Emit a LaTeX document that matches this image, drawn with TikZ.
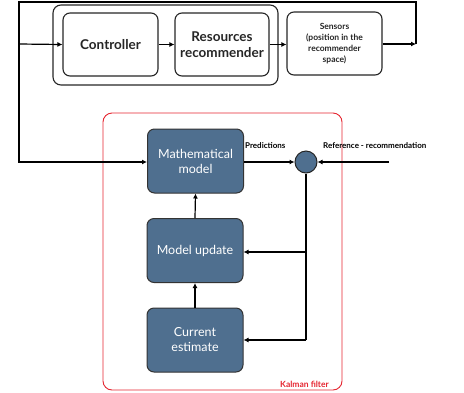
\documentclass[tikz,border=0pt]{standalone}
\usepackage{fontspec}
\setmainfont{Lato}
\usetikzlibrary{arrows.meta}
\definecolor{boxblue}{HTML}{4F6F8F}
\definecolor{kred}{HTML}{E52530}
\begin{document}
\begin{tikzpicture}[x=1pt,y=-1pt,
  wbox/.style={draw=black!85,line width=1.1pt,rounded corners=7pt,fill=white,align=center,inner sep=0pt,text=black!85},
  bbox/.style={draw=black!80,line width=1pt,rounded corners=7pt,fill=boxblue,text=white,align=center,inner sep=0pt,minimum width=96pt,minimum height=64pt,font=\fontsize{12.5}{15}\selectfont},
  conn/.style={line width=1.2pt,-{Latex[length=5pt,width=5pt]}},
  plain/.style={line width=1.2pt},
  lbl/.style={font=\fontsize{8}{9}\selectfont\bfseries,inner sep=0pt}]
\useasboundingbox (0,0) rectangle (464,392);
% group box
\draw[line width=1.1pt,rounded corners=8pt,draw=black!85] (53,5) rectangle (278,85);
\node[wbox,minimum width=95pt,minimum height=63pt,font=\fontsize{13.5}{15}\selectfont\bfseries] (ctrl) at (110.5,44.5) {Controller};
\node[wbox,minimum width=94pt,minimum height=63pt,font=\fontsize{13.5}{15.5}\selectfont\bfseries] (rr) at (222,44.5) {Resources\\recommender};
\node[wbox,minimum width=95pt,minimum height=63pt,font=\fontsize{8.5}{11}\selectfont\bfseries] (sens) at (334.5,43.5) {Sensors\\(position in the\\recommender\\space)};
\coordinate (rin) at (416,44);
\coordinate (tr) at (416,2);
\coordinate (tl) at (19,2);
\coordinate (bl) at (19,162);
\coordinate (cin) at (19,44);
% Kalman
\draw[kred,line width=0.9pt,rounded corners=9pt] (103,113) rectangle (342,390);
\node[lbl,text=kred,anchor=south east,font=\fontsize{8.5}{9}\selectfont\bfseries] (kf) at (329,388) {Kalman filter};
\node[bbox] (mm) at (195.5,161) {Mathematical\\model};
\node[bbox] (mu) at (195,250.5) {Model update};
\node[bbox] (ce) at (195,340) {Current\\estimate};
\node[circle,draw=black!85,line width=1pt,fill=boxblue,minimum size=22pt,inner sep=0pt] (sum) at (306,162) {};
\coordinate (refin) at (389,162);
\coordinate (vb) at (306,340);
\coordinate (vm) at (306,252);
\node[lbl,anchor=south west] (pred) at (245,149) {Predictions};
\node[lbl,anchor=south west] (refl) at (323,149) {Reference - recommendation};
% connectors
\draw[conn] (cin) -- (ctrl.west);
\draw[conn] (ctrl.east) -- (rr.west);
\draw[conn] (rr.east) -- (sens.west|-rr.east);
\draw[conn] (sens.east|-rin) -- (rin);
\draw[conn] (rin) -- (tr) -- (tl) -- (bl) -- (mm.west|-bl);
\draw[conn] (mm.east|-sum) -- (sum.west);
\draw[conn] (refin) -- (sum.east);
\draw[conn] (mu.north) -- (mm.south);
\draw[conn] (ce.north) -- (mu.south);
\draw[plain] (sum.south) -- (vb);
\draw[conn] (vm) -- (mu.east|-vm);
\draw[conn] (vb) -- (ce.east|-vb);
\end{tikzpicture}
\end{document}
